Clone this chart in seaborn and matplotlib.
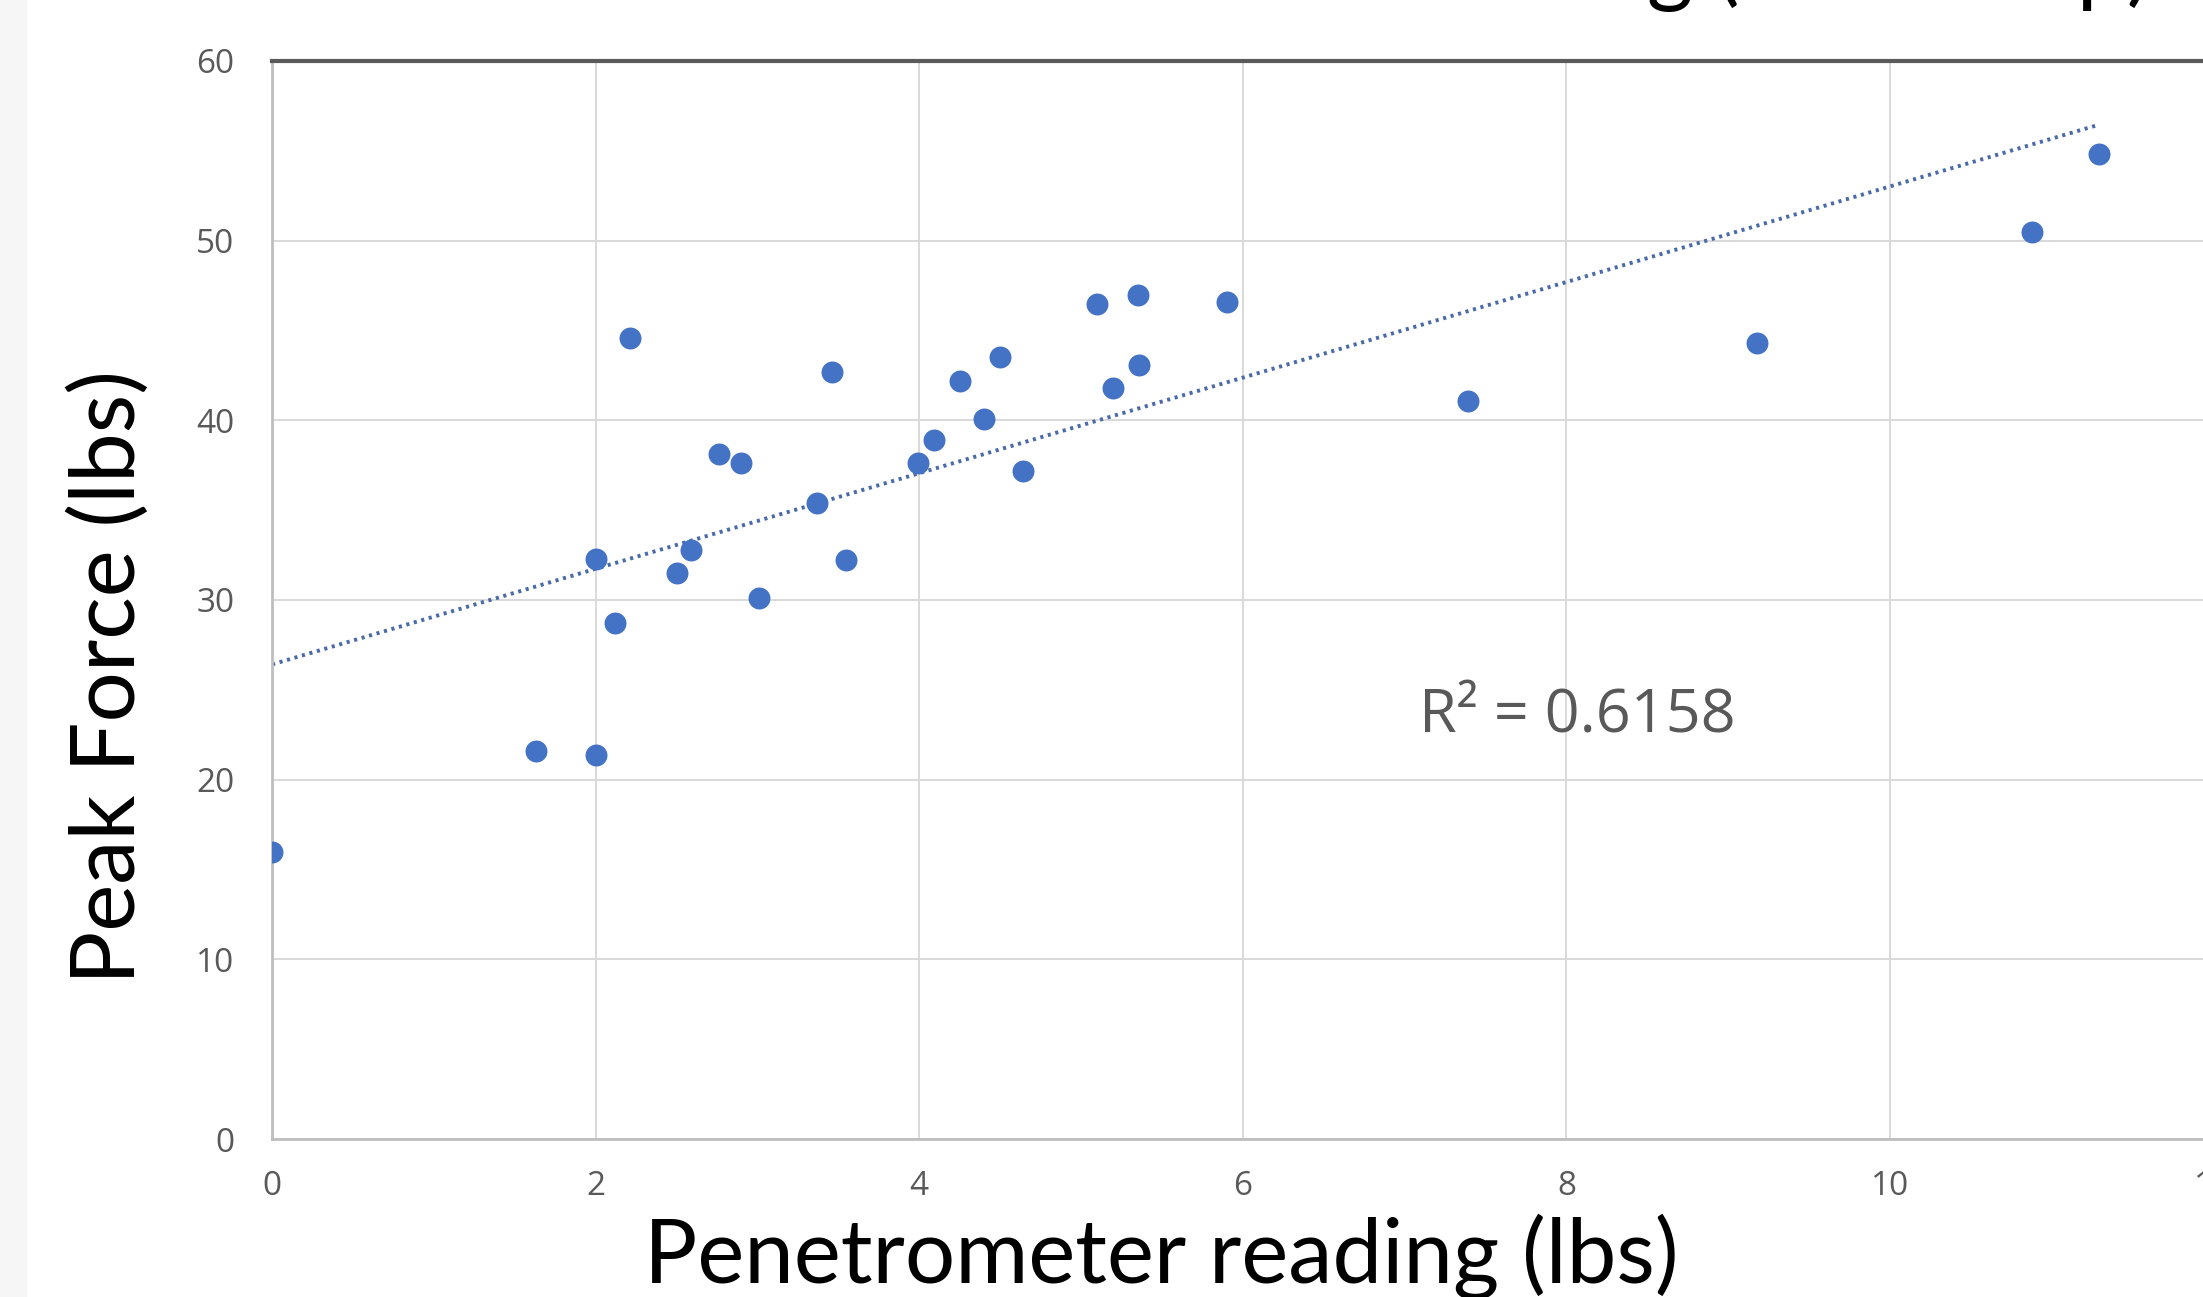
import numpy as np
import pandas as pd
import seaborn as sns
import matplotlib.pyplot as plt
from matplotlib.patches import Rectangle

# data
penetrometer = [0.0, 1.63, 2.0, 2.0, 2.12, 2.21, 2.50, 2.59, 2.76, 2.90,
                3.01, 3.37, 3.46, 3.55, 3.99, 4.09, 4.25, 4.40, 4.50, 4.64,
                5.10, 5.20, 5.35, 5.36, 5.90, 7.39, 9.18, 10.88, 11.29]
peak_force = [16.0, 21.6, 21.4, 32.3, 28.7, 44.6, 31.5, 32.8, 38.1, 37.6,
              30.1, 35.4, 42.7, 32.2, 37.6, 38.9, 42.2, 40.1, 43.5, 37.2,
              46.5, 41.8, 47.0, 43.1, 46.6, 41.1, 44.3, 50.5, 54.8]
x_ticks = [0, 2, 4, 6, 8, 10, 12]
y_ticks = [0, 10, 20, 30, 40, 50, 60]
r2_label = "R² = 0.6158"

df = pd.DataFrame({"pen": penetrometer, "force": peak_force})

sns.set_theme(style="white")
plt.rcParams['font.family'] = ['Open Sans', 'DejaVu Sans']

fig = plt.figure(figsize=(22.03, 12.97), dpi=100)
fig.patches.append(Rectangle((0, 0), 0.012, 1, transform=fig.transFigure,
                             color="#f6f6f6", zorder=0))
ax = fig.add_axes([0.1235, 0.1218, 0.8813, 0.8312])

# scatter + linear trendline (dotted, like Excel)
sns.regplot(data=df, x="pen", y="force", ax=ax, ci=None, truncate=True,
            scatter_kws={"s": 250, "color": "#4472C4", "linewidths": 0, "alpha": 1, "zorder": 3},
            line_kws={"color": "#4a6aa8", "linestyle": (0, (0.8, 1.2)), "linewidth": 2.8, "zorder": 2})

ax.set_xlim(0, 12)
ax.set_ylim(0, 60)
ax.set_xticks(x_ticks)
ax.set_yticks(y_ticks)
ax.grid(True, color="#d9d9d9", linewidth=1.4)
ax.set_axisbelow(True)
ax.tick_params(axis="both", length=0, labelsize=24, labelcolor="#595959")
ax.tick_params(axis="y", pad=27)
ax.tick_params(axis="x", pad=22)

for s in ["left", "bottom"]:
    ax.spines[s].set_color("#bfbfbf")
    ax.spines[s].set_linewidth(2)
ax.spines["top"].set_color("#5a5a5a")
ax.spines["top"].set_linewidth(3)
ax.spines["right"].set_visible(False)

ax.set_xlabel("")
ax.set_ylabel("")
label_font = ["Lato", "DejaVu Sans"]
fig.text(0.527, 0.011, "Penetrometer reading (lbs)", ha="center", va="baseline",
         fontsize=64, color="black", family=label_font)
fig.text(0.0497, 0.478, "Peak Force (lbs)", ha="center", va="center", rotation=90,
         fontsize=64, color="black", family=label_font)
fig.text(0.976, 1.004, "Peak Force vs Penetrometer Reading (lab set-up)", ha="right",
         va="baseline", fontsize=64, color="black", family=label_font)

ax.text(7.09, 23.5, r2_label, ha="left", va="center", fontsize=44, color="#595959")

fig.savefig("out.png", dpi=100)
